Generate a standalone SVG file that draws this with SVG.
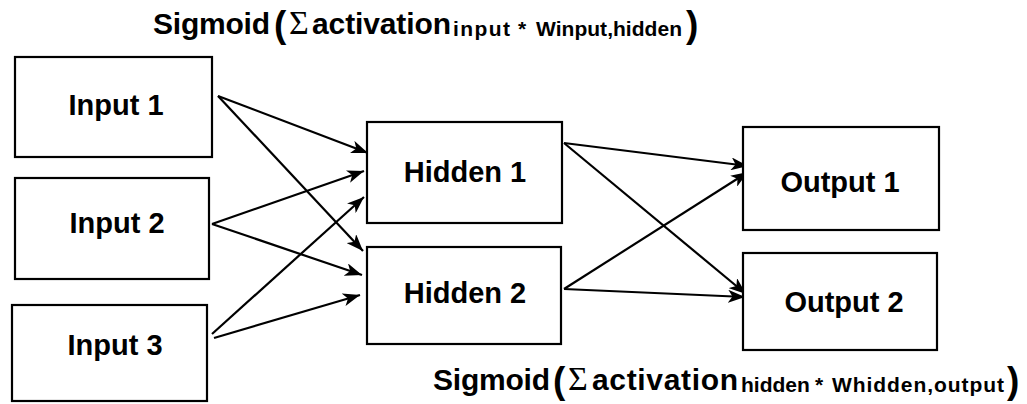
<svg xmlns="http://www.w3.org/2000/svg" width="1027" height="404" viewBox="0 0 1027 404">
<style>
.box{fill:#fff;stroke:#000;stroke-width:2.2}
.lbl{font-family:"Liberation Sans",Arial,sans-serif;font-weight:bold;font-size:29px;fill:#000;text-anchor:middle}
.edge{stroke:#000;stroke-width:2.2;fill:none;marker-end:url(#ah)}
.f{font-family:"Liberation Sans",Arial,sans-serif;font-weight:bold;font-size:30px;fill:#000}
.par{font-size:37px}
.sig{font-family:"Liberation Serif","Times New Roman",serif;font-weight:normal;font-size:34px}
.sub{font-size:21px}
</style>
<defs>
<marker id="ah" markerUnits="userSpaceOnUse" markerWidth="19" markerHeight="13" refX="17" refY="6.5" orient="auto">
<path d="M0,0 L17,6.5 L0,13 L4.5,6.5 z" fill="#000"/>
</marker>
</defs>
<rect width="1027" height="404" fill="#fff"/>
<g id="formula-top">
<text class="f" y="34"><tspan x="153" textLength="117">Sigmoid</tspan><tspan class="par" x="274" y="37">(</tspan><tspan class="sig" x="289" y="34">Σ</tspan><tspan x="312" textLength="139">activation</tspan><tspan class="sub" x="453" y="36" textLength="57">input</tspan><tspan class="sub" x="518" y="36">*</tspan><tspan class="sub" x="536" y="36" textLength="146">Winput,hidden</tspan><tspan class="par" x="686" y="37">)</tspan></text>
</g>
<g id="formula-bottom">
<text class="f" y="390"><tspan x="433" textLength="117">Sigmoid</tspan><tspan class="par" x="553" y="393">(</tspan><tspan class="sig" x="568" y="390">Σ</tspan><tspan x="592" textLength="146">activation</tspan><tspan class="sub" x="741" y="392">hidden</tspan><tspan class="sub" x="815" y="392">*</tspan><tspan class="sub" x="832" y="392" textLength="172">Whidden,output</tspan><tspan class="par" x="1007" y="393">)</tspan></text>
</g>
<g id="connectors">
<line class="edge" x1="218" y1="96" x2="368" y2="153"/>
<line class="edge" x1="218" y1="96" x2="363" y2="251"/>
<line class="edge" x1="212" y1="224" x2="364" y2="171"/>
<line class="edge" x1="212" y1="224" x2="362" y2="275"/>
<line class="edge" x1="212" y1="334" x2="364" y2="197"/>
<line class="edge" x1="214" y1="338" x2="360" y2="295"/>
<line class="edge" x1="564" y1="143" x2="748" y2="166"/>
<line class="edge" x1="564" y1="143" x2="746" y2="294"/>
<line class="edge" x1="564" y1="289" x2="748" y2="172"/>
<line class="edge" x1="564" y1="289" x2="745" y2="297"/>
</g>
<g id="input1"><rect class="box" x="15" y="57" width="197" height="100"/><text class="lbl" x="116" y="115">Input 1</text></g>
<g id="input2"><rect class="box" x="15" y="178" width="194" height="101"/><text class="lbl" x="117" y="233">Input 2</text></g>
<g id="input3"><rect class="box" x="12" y="305" width="195" height="96"/><text class="lbl" x="115" y="355">Input 3</text></g>
<g id="hidden1"><rect class="box" x="367" y="122" width="195" height="101"/><text class="lbl" x="465" y="182">Hidden 1</text></g>
<g id="hidden2"><rect class="box" x="367" y="247" width="194" height="97"/><text class="lbl" x="465" y="303">Hidden 2</text></g>
<g id="output1"><rect class="box" x="743" y="127" width="196" height="103"/><text class="lbl" x="840" y="192">Output 1</text></g>
<g id="output2"><rect class="box" x="743" y="253" width="194" height="97"/><text class="lbl" x="844" y="312">Output 2</text></g>
</svg>
